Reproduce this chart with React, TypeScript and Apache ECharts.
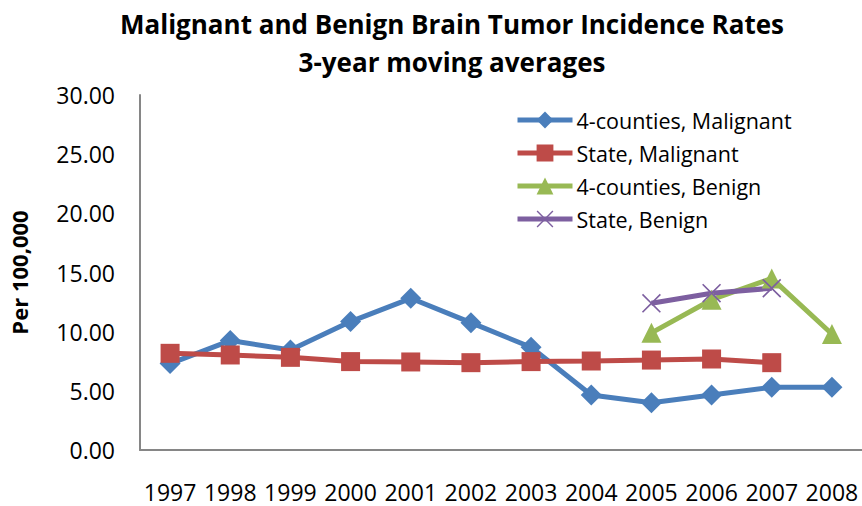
import React, { useEffect, useRef } from "react";
import * as echarts from "echarts";

const years = ["1997", "1998", "1999", "2000", "2001", "2002", "2003", "2004", "2005", "2006", "2007", "2008"];
const countiesMalignant = [7.3, 9.25, 8.45, 10.85, 12.82, 10.76, 8.68, 4.65, 4.0, 4.65, 5.3, 5.3];
const stateMalignant = [8.17, 8.03, 7.83, 7.47, 7.44, 7.38, 7.47, 7.52, 7.6, 7.69, 7.38, null];
const countiesBenign = [null, null, null, null, null, null, null, null, 9.9, 12.7, 14.5, 9.8];
const stateBenign = [null, null, null, null, null, null, null, null, 12.4, 13.25, 13.67, null];

const FONT = "'Open Sans', 'Liberation Sans', sans-serif";
const crossPath = "path://M0,1.2 L1.2,0 L10,8.8 L18.8,0 L20,1.2 L11.2,10 L20,18.8 L18.8,20 L10,11.2 L1.2,20 L0,18.8 L8.8,10 Z";

export default function App() {
  const ref = useRef<HTMLDivElement>(null);
  useEffect(() => {
    document.body.style.margin = "0";
    const chart = echarts.init(ref.current!, null, { renderer: "svg" });
    const mk = (name: string, data: any[], color: string, symbol: string, size: number) => ({
      name,
      type: "line",
      data,
      connectNulls: false,
      symbol,
      symbolSize: size,
      lineStyle: { color, width: 5 },
      itemStyle: { color },
    });
    chart.setOption({
      animation: false,
      backgroundColor: "#ffffff",
      title: {
        text: "Malignant and Benign Brain Tumor Incidence Rates\n3-year moving averages",
        left: 452,
        textAlign: "center",
        top: 5,
        padding: 0,
        textStyle: { fontFamily: FONT, fontWeight: "bold", fontSize: 26, lineHeight: 38, color: "#000" },
      },
      legend: {
        orient: "vertical",
        left: 515,
        top: 108,
        padding: 0,
        itemWidth: 55,
        itemHeight: 21,
        itemGap: 9,
        lineStyle: { width: 5 },
        textStyle: { fontFamily: FONT, fontSize: 21.5, lineHeight: 24, color: "#000", padding: [0, 0, 0, -1] },
        data: ["4-counties, Malignant", "State, Malignant", "4-counties, Benign", "State, Benign"],
      },
      grid: { left: 140, right: 0, top: 95, bottom: 56, containLabel: false },
      xAxis: {
        type: "category",
        data: years,
        boundaryGap: true,
        axisLine: { lineStyle: { color: "#868686", width: 2 } },
        axisTick: { show: false },
        axisLabel: { fontFamily: FONT, fontSize: 23, color: "#000", margin: 30, interval: 0 },
      },
      yAxis: {
        type: "value",
        min: 0,
        max: 30,
        interval: 5,
        name: "Per 100,000",
        nameLocation: "middle",
        nameGap: 110,
        nameRotate: 90,
        nameTextStyle: { fontFamily: FONT, fontSize: 22, fontWeight: "bold", color: "#000" },
        axisLine: { show: true, lineStyle: { color: "#868686", width: 2 } },
        axisTick: { show: false },
        splitLine: { show: false },
        axisLabel: {
          fontFamily: FONT,
          fontSize: 23,
          color: "#000",
          margin: 25,
          formatter: (v: number) => v.toFixed(2),
        },
      },
      series: [
        mk("4-counties, Malignant", countiesMalignant, "#4A7EBB", "diamond", 21),
        mk("State, Malignant", stateMalignant, "#BE4B48", "rect", 19),
        mk("4-counties, Benign", countiesBenign, "#98B954", "triangle", 20),
        mk("State, Benign", stateBenign, "#7D5FA0", crossPath, 19),
      ],
    });
    return () => chart.dispose();
  }, []);
  return <div ref={ref} style={{ width: 862, height: 506 }} />;
}
